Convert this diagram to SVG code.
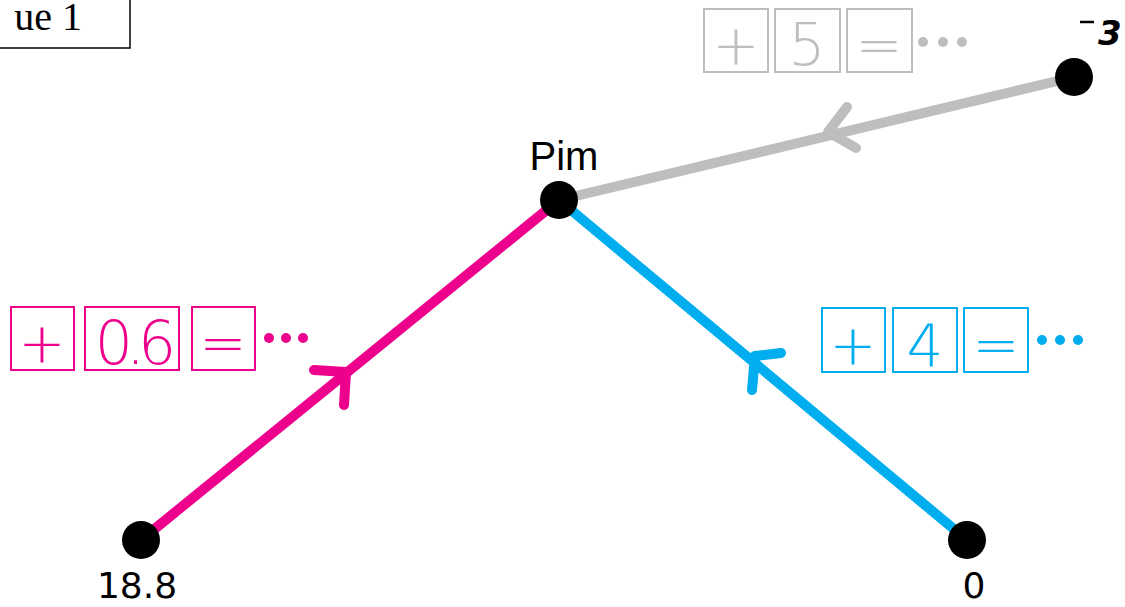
<svg xmlns="http://www.w3.org/2000/svg" width="1125" height="607" viewBox="0 0 1125 607">
<style>
.edge{fill:none;stroke-width:10;stroke-linecap:round;stroke-linejoin:round}
.box{fill:none;stroke-width:2}
.sym{font-family:"DejaVu Sans","Liberation Sans",sans-serif;font-weight:200;text-anchor:middle}
.node{fill:#000}
.lbl{font-family:"DejaVu Sans","Liberation Sans",sans-serif;font-size:36px;fill:#000}
.pink{stroke:#EC008C}
.blue{stroke:#00AEEF}
.gray{stroke:#BEBEBE}
</style>
<g id="title">
<rect x="-10" y="-2" width="140" height="50" fill="#fff" stroke="#000" stroke-width="1.5"/>
<text x="82" y="30" font-family="Liberation Serif,serif" font-size="40" text-anchor="end">ue 1</text>
</g>
<g id="connectors">
<line class="edge gray" x1="1074" y1="77" x2="559" y2="200"/>
<polyline class="edge gray" points="847,107 828,132 856,148"/>
<line class="edge pink" x1="141" y1="540" x2="559" y2="200"/>
<polyline class="edge pink" points="314,370 346,372 344,405"/>
<line class="edge blue" x1="967" y1="540" x2="559" y2="200"/>
<polyline class="edge blue" points="781,353 755,356 752,390"/>
</g>
<g id="label-gray">
<rect class="box gray" x="704" y="9" width="64" height="63"/>
<rect class="box gray" x="775" y="9" width="65" height="63"/>
<rect class="box gray" x="847" y="9" width="65" height="63"/>
<text class="sym" x="736" y="64" font-size="56" fill="#BEBEBE">+</text>
<text class="sym" x="807" y="65" font-size="58" fill="#BEBEBE">5</text>
<text class="sym" x="879" y="64" font-size="56" fill="#BEBEBE">=</text>
<circle cx="923" cy="42" r="5" fill="#BEBEBE"/><circle cx="943" cy="42" r="5" fill="#BEBEBE"/><circle cx="962" cy="42" r="5" fill="#BEBEBE"/>
</g>
<g id="label-pink">
<rect class="box pink" x="11" y="307" width="63" height="63"/>
<rect class="box pink" x="85" y="307" width="94" height="63"/>
<rect class="box pink" x="192" y="307" width="63" height="63"/>
<text class="sym" x="42" y="362" font-size="56" fill="#EC008C">+</text>
<text class="sym" x="132" y="364" font-size="60" fill="#EC008C" letter-spacing="-7">0.6</text>
<text class="sym" x="223" y="362" font-size="56" fill="#EC008C">=</text>
<circle cx="269" cy="338" r="5" fill="#EC008C"/><circle cx="286" cy="338" r="5" fill="#EC008C"/><circle cx="303" cy="338" r="5" fill="#EC008C"/>
</g>
<g id="label-blue">
<rect class="box blue" x="822" y="308" width="63" height="64"/>
<rect class="box blue" x="893" y="308" width="64" height="64"/>
<rect class="box blue" x="964" y="308" width="64" height="64"/>
<text class="sym" x="853" y="364" font-size="56" fill="#00AEEF">+</text>
<text class="sym" x="925" y="366" font-size="58" fill="#00AEEF">4</text>
<text class="sym" x="996" y="364" font-size="56" fill="#00AEEF">=</text>
<circle cx="1042" cy="340" r="5" fill="#00AEEF"/><circle cx="1060" cy="340" r="5" fill="#00AEEF"/><circle cx="1078" cy="340" r="5" fill="#00AEEF"/>
</g>
<g id="node-pim">
<circle class="node" cx="559" cy="200" r="19"/>
<text x="564" y="170" font-family="Liberation Sans,sans-serif" font-size="40" text-anchor="middle">Pim</text>
</g>
<g id="node-neg3">
<circle class="node" cx="1074" cy="77" r="19"/>
<text x="1098" y="45" font-family="DejaVu Sans,sans-serif" font-size="34" font-weight="bold" font-style="italic">3</text>
<line x1="1080" y1="22" x2="1094" y2="22" stroke="#000" stroke-width="2.5"/>
</g>
<g id="node-18-8">
<circle class="node" cx="141" cy="540" r="19"/>
<text class="lbl" x="137" y="598" text-anchor="middle">18.8</text>
</g>
<g id="node-0">
<circle class="node" cx="967" cy="540" r="19"/>
<text class="lbl" x="974" y="598" text-anchor="middle">0</text>
</g>
</svg>
